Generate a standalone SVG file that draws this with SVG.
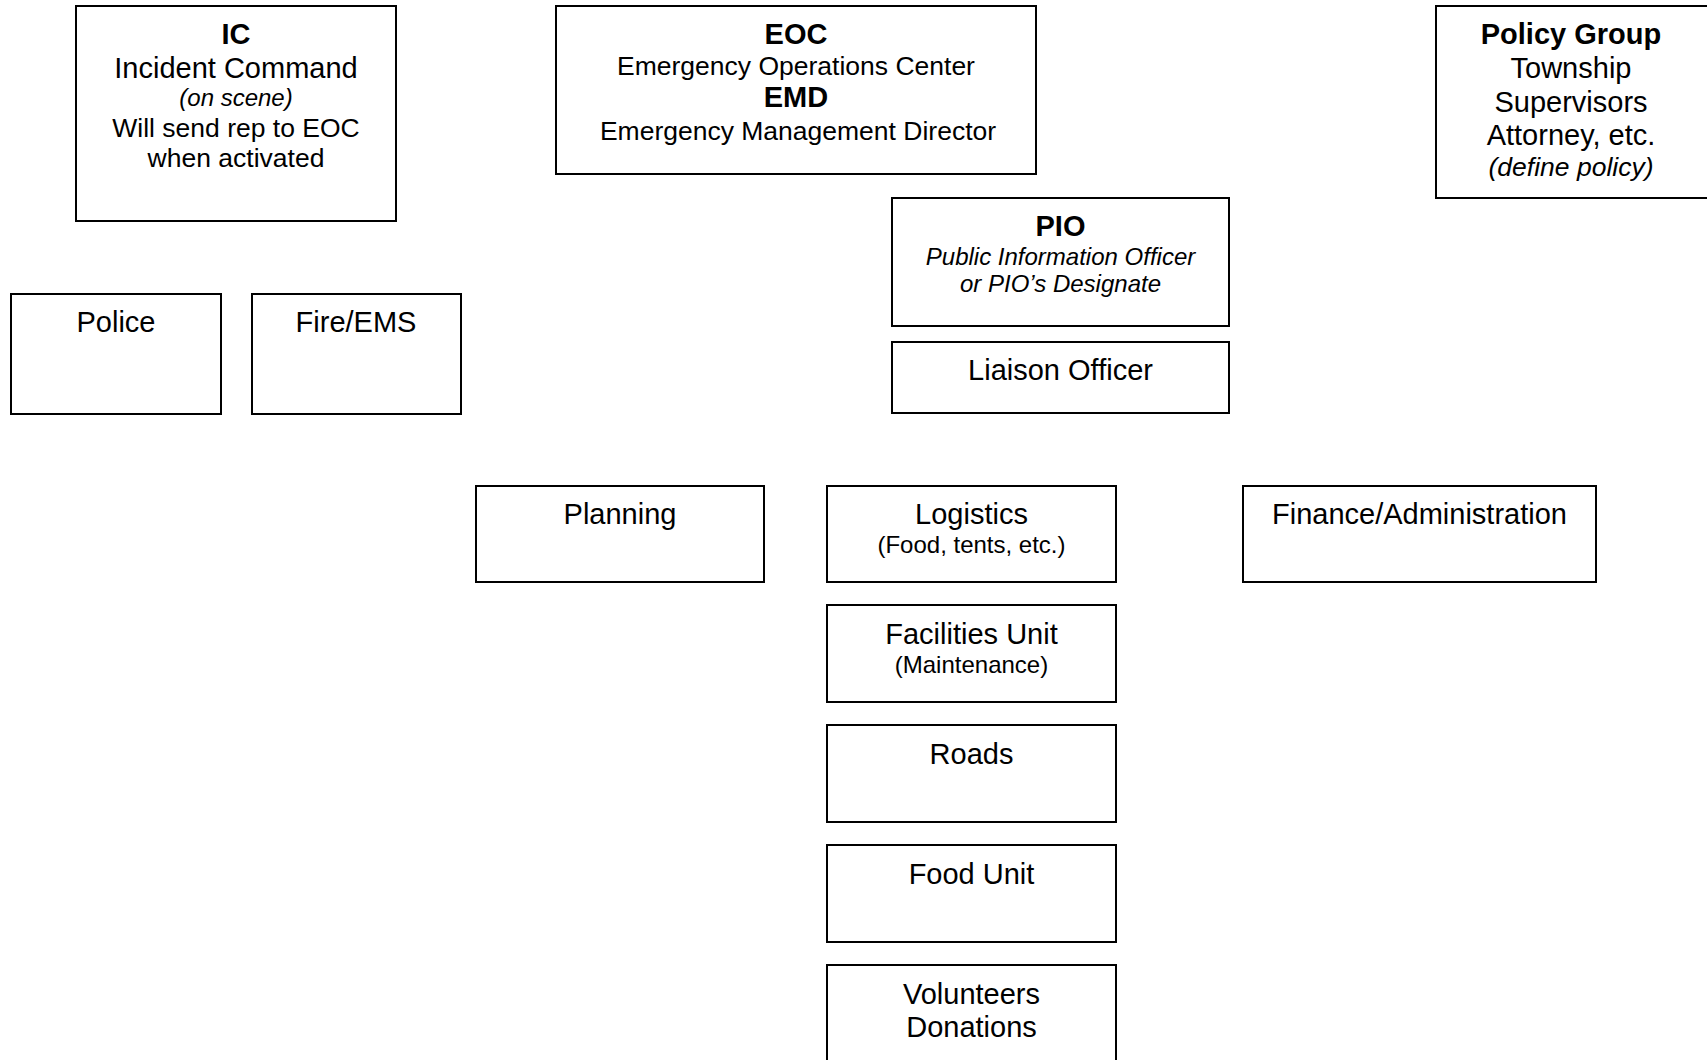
<svg xmlns="http://www.w3.org/2000/svg" width="1707" height="1060" viewBox="0 0 1707 1060">
<style>
rect.box { fill: #ffffff; stroke: #000000; stroke-width: 2; }
text { font-family: "Liberation Sans", Arial, sans-serif; fill: #000000; text-anchor: middle; }
.t { font-size: 29px; }
.b { font-size: 29px; font-weight: bold; }
.s { font-size: 26.5px; }
.i { font-size: 24px; font-style: italic; }
.il { font-size: 26.5px; font-style: italic; }
.p { font-size: 24px; }
</style>
<rect x="0" y="0" width="1707" height="1060" fill="#ffffff"/>
<g id="connectors"></g>
<g id="ic">
<rect class="box" x="76" y="6" width="320" height="215"/>
<text class="b" x="236" y="44">IC</text>
<text class="t" x="236" y="78">Incident Command</text>
<text class="i" x="236" y="106">(on scene)</text>
<text class="s" x="236" y="137">Will send rep to EOC</text>
<text class="s" x="236" y="167">when activated</text>
</g>
<g id="eoc">
<rect class="box" x="556" y="6" width="480" height="168"/>
<text class="b" x="796" y="44">EOC</text>
<text class="s" x="796" y="75">Emergency Operations Center</text>
<text class="b" x="796" y="107">EMD</text>
<text class="s" x="798" y="140">Emergency Management Director</text>
</g>
<g id="policy">
<rect class="box" x="1436" y="6" width="274" height="192"/>
<text class="b" x="1571" y="44">Policy Group</text>
<text class="t" x="1571" y="78">Township</text>
<text class="t" x="1571" y="112">Supervisors</text>
<text class="t" x="1571" y="145">Attorney, etc.</text>
<text class="il" x="1571" y="176">(define policy)</text>
</g>
<g id="pio">
<rect class="box" x="892" y="198" width="337" height="128"/>
<text class="b" x="1060.5" y="236">PIO</text>
<text class="i" x="1060.5" y="265">Public Information Officer</text>
<text class="i" x="1060.5" y="292">or PIO’s Designate</text>
</g>
<g id="liaison">
<rect class="box" x="892" y="342" width="337" height="71"/>
<text class="t" x="1060.5" y="380">Liaison Officer</text>
</g>
<g id="police">
<rect class="box" x="11" y="294" width="210" height="120"/>
<text class="t" x="116" y="332">Police</text>
</g>
<g id="fire">
<rect class="box" x="252" y="294" width="209" height="120"/>
<text class="t" x="356" y="332">Fire/EMS</text>
</g>
<g id="planning">
<rect class="box" x="476" y="486" width="288" height="96"/>
<text class="t" x="620" y="524">Planning</text>
</g>
<g id="logistics">
<rect class="box" x="827" y="486" width="289" height="96"/>
<text class="t" x="971.5" y="524">Logistics</text>
<text class="p" x="971.5" y="553">(Food, tents, etc.)</text>
</g>
<g id="finance">
<rect class="box" x="1243" y="486" width="353" height="96"/>
<text class="t" x="1419.5" y="524">Finance/Administration</text>
</g>
<g id="facilities">
<rect class="box" x="827" y="605" width="289" height="97"/>
<text class="t" x="971.5" y="644">Facilities Unit</text>
<text class="p" x="971.5" y="673">(Maintenance)</text>
</g>
<g id="roads">
<rect class="box" x="827" y="725" width="289" height="97"/>
<text class="t" x="971.5" y="764">Roads</text>
</g>
<g id="food">
<rect class="box" x="827" y="845" width="289" height="97"/>
<text class="t" x="971.5" y="884">Food Unit</text>
</g>
<g id="volunteers">
<rect class="box" x="827" y="965" width="289" height="110"/>
<text class="t" x="971.5" y="1004">Volunteers</text>
<text class="t" x="971.5" y="1037">Donations</text>
</g>
</svg>
